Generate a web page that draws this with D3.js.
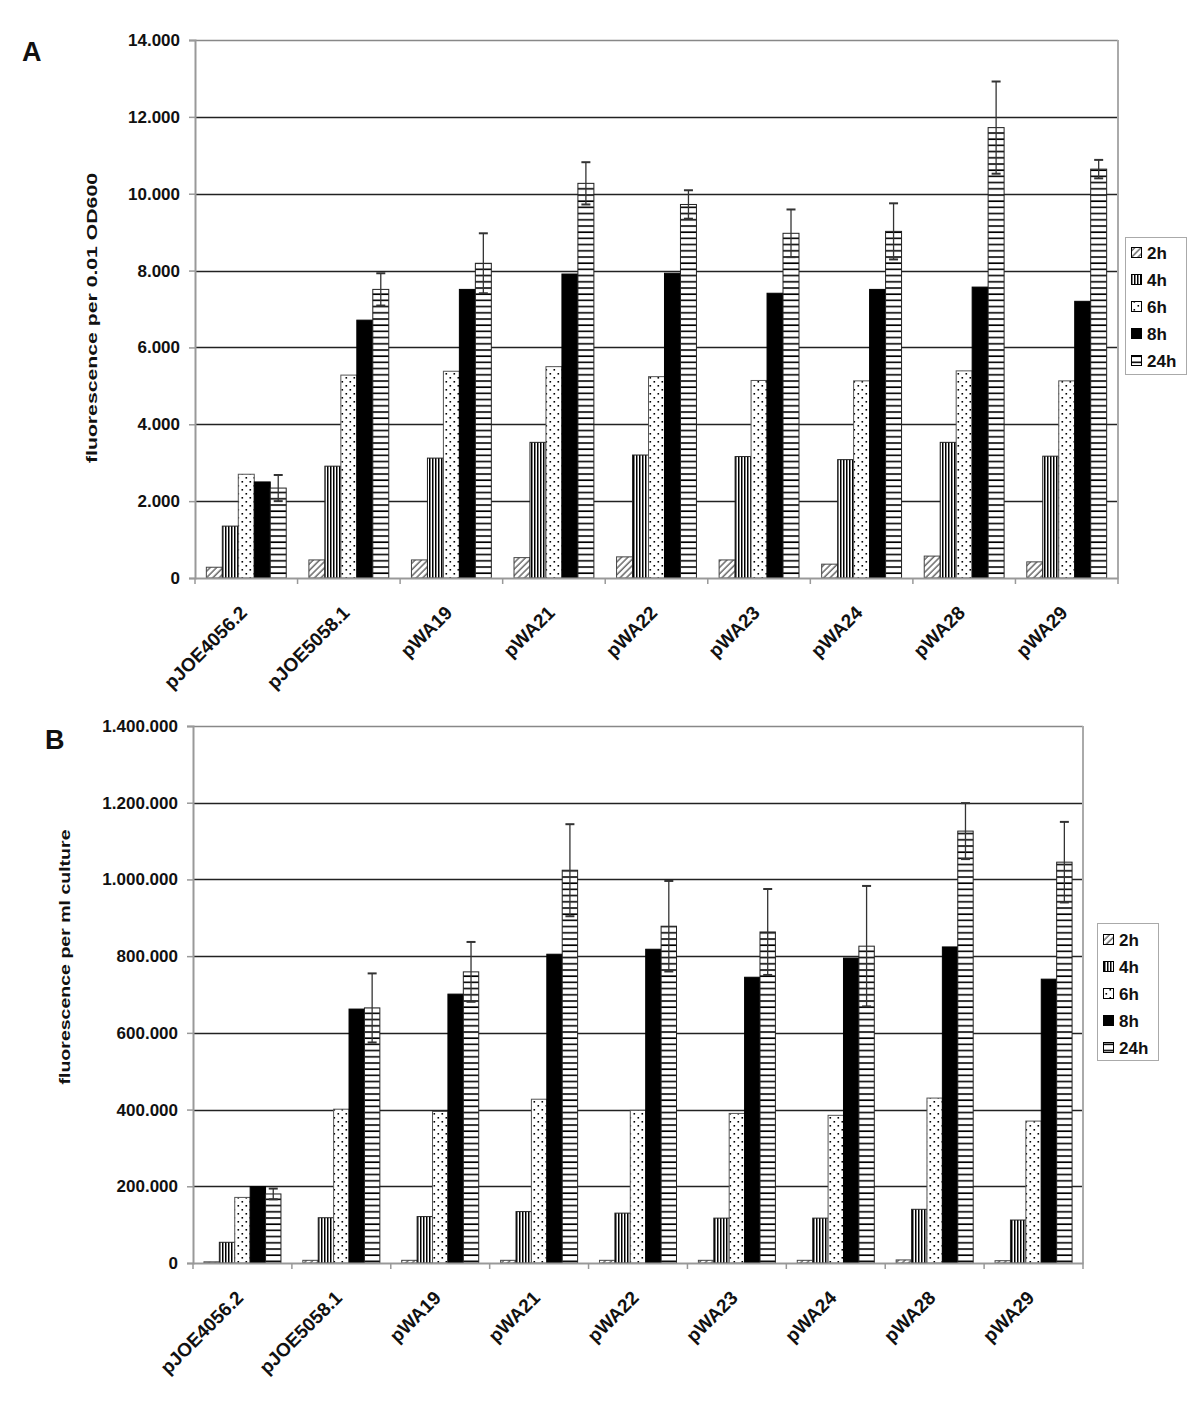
<!DOCTYPE html>
<html>
<head>
<meta charset="utf-8">
<script src="https://cdn.jsdelivr.net/npm/d3@7"></script>
<style>
  html, body { margin: 0; padding: 0; background: #fff; }
  svg { display: block; font-family: "Liberation Sans", Arial, sans-serif; }
</style>
</head>
<body>
<svg id="chart" width="1200" height="1404"></svg>
<script>
// ---------------- DATA ----------------
const categories = ["pJOE4056.2", "pJOE5058.1", "pWA19", "pWA21", "pWA22", "pWA23", "pWA24", "pWA28", "pWA29"];
const seriesNames = ["2h", "4h", "6h", "8h", "24h"];

// Panel A: fluorescence per 0.01 OD600
const a2h  = [280, 470, 470, 530, 550, 470, 360, 570, 420];
const a4h  = [1350, 2910, 3120, 3530, 3200, 3160, 3080, 3530, 3170];
const a6h  = [2700, 5280, 5380, 5500, 5240, 5140, 5130, 5390, 5130];
const a8h  = [2500, 6710, 7510, 7910, 7930, 7410, 7510, 7570, 7200];
const a24h = [2340, 7510, 8190, 10270, 9720, 8970, 9020, 11720, 10640];
const a24hErr = [340, 420, 780, 550, 370, 620, 730, 1200, 240];
const yTicksA = [0, 2000, 4000, 6000, 8000, 10000, 12000, 14000];

// Panel B: fluorescence per ml culture
const b2h  = [3000, 7000, 7000, 7000, 7000, 7000, 7000, 8000, 6000];
const b4h  = [54000, 118000, 121000, 134000, 130000, 117000, 117000, 140000, 112000];
const b6h  = [171000, 401000, 395000, 427000, 398000, 390000, 385000, 430000, 370000];
const b8h  = [199000, 662000, 701000, 805000, 818000, 745000, 795000, 824000, 740000];
const b24h = [180000, 665000, 759000, 1024000, 878000, 863000, 826000, 1126000, 1045000];
const b24hErr = [14000, 90000, 78000, 120000, 118000, 112000, 157000, 73000, 105000];
const yTicksB = [0, 200000, 400000, 600000, 800000, 1000000, 1200000, 1400000];

// ---------------- SETUP ----------------
const fmt = d3.formatLocale({decimal: ",", thousands: ".", grouping: [3], currency: ["", ""]}).format(",d");
const svg = d3.select("#chart");
svg.append("rect").attr("width", 1200).attr("height", 1404).attr("fill", "#fff");

const defs = svg.append("defs");
// 2h: diagonal hatch
const p2 = defs.append("pattern").attr("id", "pat2h").attr("patternUnits", "userSpaceOnUse")
  .attr("width", 4.5).attr("height", 4.5).attr("patternTransform", "rotate(45)");
p2.append("rect").attr("width", 4.5).attr("height", 4.5).attr("fill", "#fff");
p2.append("line").attr("x1", 1).attr("x2", 1).attr("y1", 0).attr("y2", 4.5).attr("stroke", "#333").attr("stroke-width", 1.1);
// 4h: dense vertical lines
const p4 = defs.append("pattern").attr("id", "pat4h").attr("patternUnits", "userSpaceOnUse")
  .attr("width", 3).attr("height", 10);
p4.append("rect").attr("width", 3).attr("height", 10).attr("fill", "#fff");
p4.append("rect").attr("x", 0).attr("width", 1.5).attr("height", 10).attr("fill", "#000");
// 6h: sparse dots
const p6 = defs.append("pattern").attr("id", "pat6h").attr("patternUnits", "userSpaceOnUse")
  .attr("width", 8).attr("height", 8);
p6.append("rect").attr("width", 8).attr("height", 8).attr("fill", "#fff");
p6.append("rect").attr("x", 1.5).attr("y", 1).attr("width", 1.6).attr("height", 1.6).attr("fill", "#000");
p6.append("rect").attr("x", 5.5).attr("y", 5).attr("width", 1.6).attr("height", 1.6).attr("fill", "#000");
// 24h: horizontal lines
const p24 = defs.append("pattern").attr("id", "pat24h").attr("patternUnits", "userSpaceOnUse")
  .attr("width", 10).attr("height", 6.2);
p24.append("rect").attr("width", 10).attr("height", 6.2).attr("fill", "#fff");
p24.append("rect").attr("y", 2).attr("width", 10).attr("height", 1.6).attr("fill", "#000");

const fills = {"2h": "url(#pat2h)", "4h": "url(#pat4h)", "6h": "url(#pat6h)", "8h": "#000", "24h": "url(#pat24h)"};
const strokes = {"2h": "#444", "4h": "#222", "6h": "#555", "8h": "#000", "24h": "#222"};

function drawPanel(cfg) {
  const g = svg.append("g");
  const x0 = d3.scaleBand().domain(categories).range([cfg.left, cfg.right]).paddingInner(0).paddingOuter(0);
  const x1 = d3.scaleBand().domain(seriesNames).range([0, x0.bandwidth()]).paddingInner(0).paddingOuter(0.71);
  const y = d3.scaleLinear().domain([0, cfg.yMax]).range([cfg.bottom, cfg.top]);

  // gridlines
  g.append("g").selectAll("line").data(cfg.ticks.filter(t => t > 0 && t < cfg.yMax)).join("line")
    .attr("x1", cfg.left).attr("x2", cfg.right)
    .attr("y1", d => Math.round(y(d)) + 0.5).attr("y2", d => Math.round(y(d)) + 0.5)
    .attr("stroke", "#222").attr("stroke-width", 1.3);
  // top & right border
  g.append("line").attr("x1", cfg.left).attr("x2", cfg.right).attr("y1", y(cfg.yMax) + 0.5).attr("y2", y(cfg.yMax) + 0.5)
    .attr("stroke", "#888").attr("stroke-width", 1.5);
  g.append("line").attr("x1", cfg.right).attr("x2", cfg.right).attr("y1", cfg.top).attr("y2", cfg.bottom)
    .attr("stroke", "#aaa").attr("stroke-width", 2);

  // bars
  cfg.series.forEach((vals, si) => {
    const s = seriesNames[si];
    g.append("g").selectAll("rect").data(vals).join("rect")
      .attr("x", (d, i) => x0(categories[i]) + x1(s))
      .attr("width", x1.bandwidth())
      .attr("y", d => y(d))
      .attr("height", d => cfg.bottom - y(d))
      .attr("fill", fills[s])
      .attr("stroke", strokes[s]).attr("stroke-width", 1);
  });

  // error bars on 24h
  const eg = g.append("g").attr("stroke", "#333").attr("stroke-width", 1.3);
  cfg.err.forEach((e, i) => {
    const v = cfg.series[4][i];
    const cx = x0(categories[i]) + x1("24h") + x1.bandwidth() / 2;
    const yt = y(v + e), yb = y(v - e);
    eg.append("line").attr("x1", cx).attr("x2", cx).attr("y1", yt).attr("y2", yb);
    eg.append("line").attr("x1", cx - 4.5).attr("x2", cx + 4.5).attr("y1", yt).attr("y2", yt).attr("stroke-width", 2);
    eg.append("line").attr("x1", cx - 4.5).attr("x2", cx + 4.5).attr("y1", yb).attr("y2", yb).attr("stroke-width", 2);
  });

  // y axis
  const yAxis = d3.axisLeft(y).tickValues(cfg.ticks).tickFormat(fmt).tickSize(6).tickPadding(9);
  const ya = g.append("g").attr("transform", `translate(${cfg.left},0)`).call(yAxis);
  ya.select(".domain").attr("stroke", "#999").attr("stroke-width", 2);
  ya.selectAll(".tick line").attr("stroke", "#999").attr("stroke-width", 1.5);
  ya.selectAll(".tick text").attr("font-size", 17).attr("font-weight", "bold").attr("fill", "#111")
    .attr("font-family", "'Liberation Sans', Arial, sans-serif");

  // x axis
  const xAxis = d3.axisBottom(x0).tickSize(0).tickFormat("");
  const xa = g.append("g").attr("transform", `translate(0,${cfg.bottom})`).call(xAxis);
  xa.select(".domain").attr("stroke", "#999").attr("stroke-width", 2);
  // ticks at category boundaries
  g.append("g").selectAll("line").data(categories.concat(["__end"])).join("line")
    .attr("x1", (d, i) => i < categories.length ? x0(d) : cfg.right)
    .attr("x2", (d, i) => i < categories.length ? x0(d) : cfg.right)
    .attr("y1", cfg.bottom).attr("y2", cfg.bottom + 6)
    .attr("stroke", "#999").attr("stroke-width", 1.5);
  // category labels
  g.append("g").selectAll("text").data(categories).join("text")
    .attr("transform", d => `translate(${x0(d) + x0.bandwidth() / 2 + 2},${cfg.bottom + 36}) rotate(-45)`)
    .attr("text-anchor", "end")
    .attr("font-size", 19).attr("font-weight", "bold").attr("fill", "#111")
    .text(d => d);

  // y label
  g.append("text")
    .attr("transform", `translate(${cfg.ylabX},${cfg.ylabY}) rotate(-90)`)
    .attr("text-anchor", "middle")
    .attr("font-size", 15).attr("font-weight", "bold").attr("fill", "#111")
    .attr("textLength", cfg.ylabLen).attr("lengthAdjust", "spacingAndGlyphs")
    .text(cfg.ylabel);

  // panel letter
  g.append("text").attr("x", cfg.letterX).attr("y", cfg.letterY)
    .attr("font-size", 27).attr("font-weight", "bold").attr("fill", "#111").text(cfg.letter);

  // legend
  const L = cfg.legend;
  const lg = g.append("g");
  lg.append("rect").attr("x", L.x + 0.5).attr("y", L.y + 0.5).attr("width", L.w).attr("height", L.h)
    .attr("fill", "#fff").attr("stroke", "#aaa").attr("stroke-width", 1);
  seriesNames.forEach((s, i) => {
    const cy = L.y + L.first + i * L.step;
    lg.append("rect").attr("x", L.x + 6.5).attr("y", cy - 5.5).attr("width", 10).attr("height", 10)
      .attr("fill", fills[s]).attr("stroke", "#000").attr("stroke-width", 1);
    lg.append("text").attr("x", L.x + 22).attr("y", cy + 6)
      .attr("font-size", 17).attr("font-weight", "bold").attr("fill", "#111").text(s);
  });
}

drawPanel({
  left: 195, right: 1118, top: 40, bottom: 578, yMax: 14000, ticks: yTicksA,
  series: [a2h, a4h, a6h, a8h, a24h], err: a24hErr,
  ylabel: "fluorescence per 0.01 OD600", ylabX: 97, ylabY: 318, ylabLen: 290,
  letter: "A", letterX: 22, letterY: 61,
  legend: {x: 1125, y: 237, w: 61, h: 137, first: 16, step: 27}
});

drawPanel({
  left: 193, right: 1083, top: 726, bottom: 1263, yMax: 1400000, ticks: yTicksB,
  series: [b2h, b4h, b6h, b8h, b24h], err: b24hErr,
  ylabel: "fluorescence per ml culture", ylabX: 70, ylabY: 957, ylabLen: 255,
  letter: "B", letterX: 45, letterY: 749,
  legend: {x: 1097, y: 923, w: 61, h: 137, first: 17, step: 27}
});
</script>
</body>
</html>
